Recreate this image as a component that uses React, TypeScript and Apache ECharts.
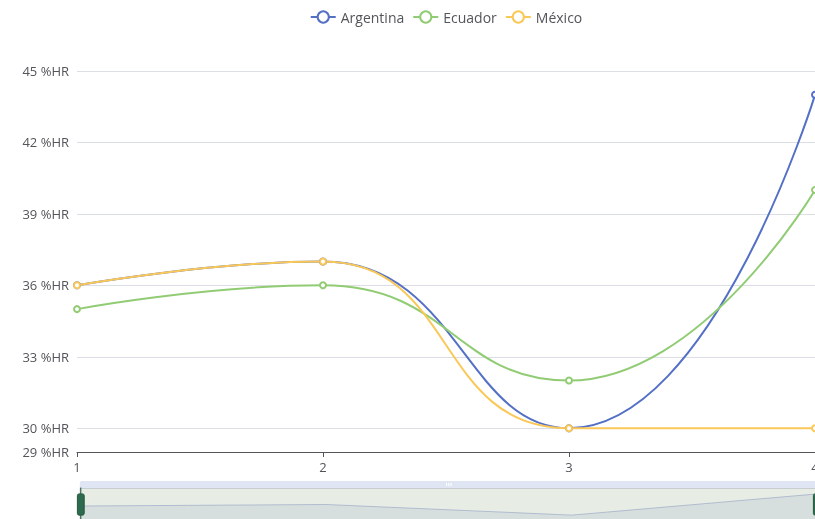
import React, { useEffect, useRef } from "react";
import * as echarts from "echarts";

const categories = ["1", "2", "3", "4"];
const argentina = [36, 37, 30, 44];
const ecuador = [35, 36, 32, 40];
const mexico = [36, 37, 30, 30];
const seriesNames = ["Argentina", "Ecuador", "México"];
const colors = ["#5470c6", "#91cc75", "#fac858"];

export default function App() {
  const ref = useRef<HTMLDivElement>(null);
  useEffect(() => {
    if (!ref.current) return;
    const chart = echarts.init(ref.current, undefined, { renderer: "svg" });
    chart.setOption({
      animation: false,
      color: colors,
      textStyle: { fontFamily: "Open Sans" },
      legend: { top: 0, padding: [2, 5], data: seriesNames, textStyle: { fontSize: 14 } },
      grid: { left: 69, right: 69, top: 63, bottom: 96 },
      xAxis: {
        type: "category",
        boundaryGap: false,
        data: categories,
        axisLabel: { fontSize: 13 },
      },
      yAxis: {
        type: "value",
        min: 29,
        max: 45,
        axisLabel: { formatter: "{value} %HR", fontSize: 13 },
      },
      dataZoom: [
        {
          type: "slider",
          left: 69,
          right: 69,
          top: 473,
          height: 34,
          borderColor: "#a9b0ba",
          fillerColor: "rgba(120,150,110,0.18)",
          handleStyle: { color: "#2e6b4e", borderColor: "#24573f" },
          moveHandleStyle: { color: "#dfe5f3", opacity: 1 },
        },
      ],
      series: [
        { name: seriesNames[0], type: "line", smooth: true, data: argentina },
        { name: seriesNames[1], type: "line", smooth: true, data: ecuador },
        { name: seriesNames[2], type: "line", smooth: true, data: mexico },
      ],
    });
    return () => chart.dispose();
  }, []);
  return (
    <div style={{ position: "fixed", left: 0, top: 0, width: 815, height: 519, overflow: "hidden" }}>
      <div ref={ref} style={{ position: "absolute", left: 8, top: 8, width: 876, height: 540 }} />
    </div>
  );
}
